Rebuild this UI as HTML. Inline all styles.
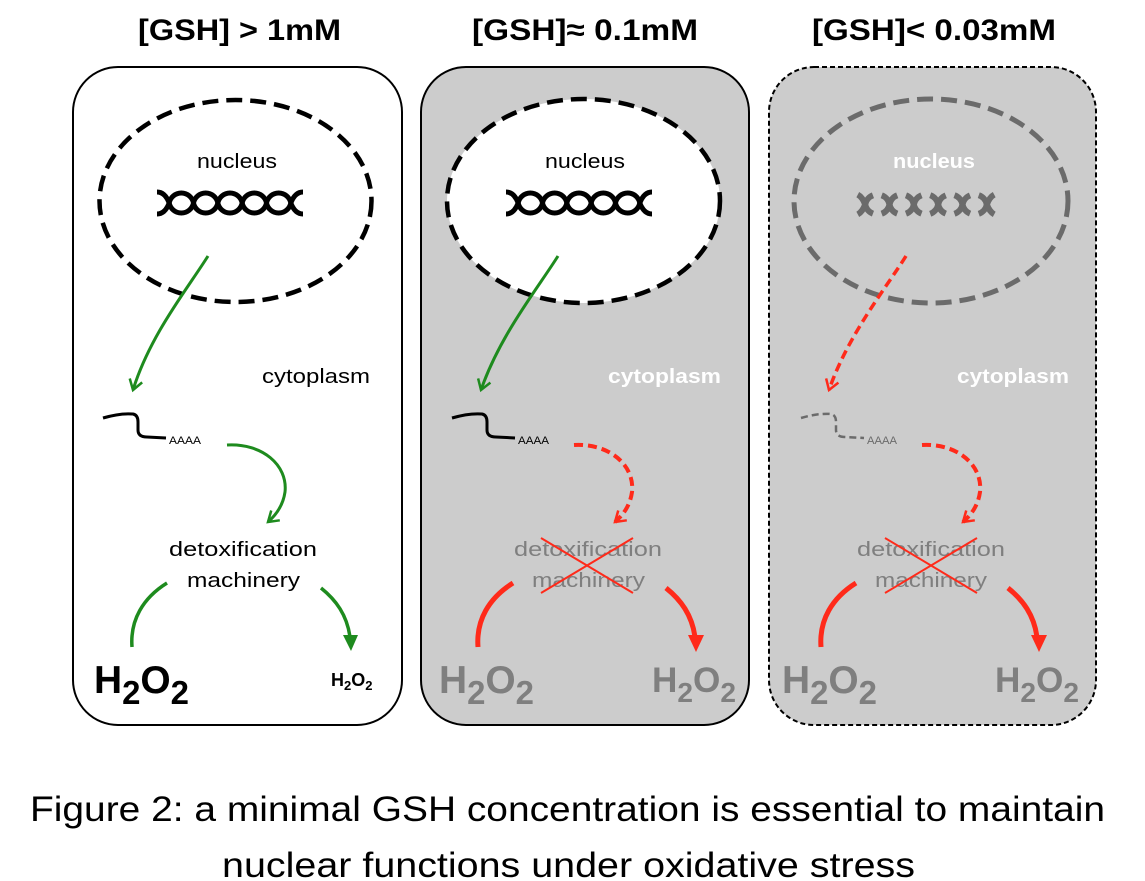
<!DOCTYPE html>
<html><head><meta charset="utf-8"><style>
html,body{margin:0;padding:0;background:#fff;overflow:hidden}
svg{display:block}
text{font-family:"Liberation Sans",sans-serif}
</style></head><body>
<svg width="1145" height="881" viewBox="0 0 1145 881" xmlns="http://www.w3.org/2000/svg">
<defs>
<marker id="vg" markerWidth="16" markerHeight="16" viewBox="-13 -8 16 16" refX="0" refY="0" orient="auto" markerUnits="userSpaceOnUse">
<path d="M-10,-6.5 L0,0 L-10,6.5" fill="none" stroke="#1e8b1e" stroke-width="2.5"/></marker>
<marker id="vr" markerWidth="16" markerHeight="16" viewBox="-13 -8 16 16" refX="0" refY="0" orient="auto" markerUnits="userSpaceOnUse">
<path d="M-10,-6.5 L0,0 L-10,6.5" fill="none" stroke="#ff2a1a" stroke-width="2.5"/></marker>
</defs>
<rect width="1145" height="881" fill="#fff"/>

<!-- Titles -->
<text x="138" y="40" font-size="30" font-weight="bold" textLength="203" lengthAdjust="spacingAndGlyphs">[GSH] &gt; 1mM</text>
<text x="472" y="40" font-size="30" font-weight="bold" textLength="226" lengthAdjust="spacingAndGlyphs">[GSH]≈ 0.1mM</text>
<text x="812" y="40" font-size="30" font-weight="bold" textLength="244" lengthAdjust="spacingAndGlyphs">[GSH]&lt; 0.03mM</text>

<!-- Panels -->
<rect x="73" y="67" width="329" height="658" rx="45" ry="45" fill="#fff" stroke="#000" stroke-width="2"/>
<rect x="421" y="67" width="328" height="658" rx="45" ry="45" fill="#cccccc" stroke="#000" stroke-width="2"/>
<rect x="769" y="67" width="327" height="658" rx="45" ry="45" fill="#cccccc" stroke="#000" stroke-width="2" stroke-dasharray="5,3"/>

<!-- Nuclei -->
<ellipse cx="235.5" cy="201" rx="136" ry="101" fill="none" stroke="#000" stroke-width="4.5" stroke-dasharray="16,8"/>
<ellipse cx="583.5" cy="201" rx="136.5" ry="102" fill="#fff" stroke="#000" stroke-width="4.5" stroke-dasharray="16,8"/>
<ellipse cx="931" cy="201" rx="137" ry="102" fill="none" stroke="#6b6b6b" stroke-width="5" stroke-dasharray="16,8"/>

<text x="197" y="168" font-size="20" textLength="80" lengthAdjust="spacingAndGlyphs">nucleus</text>
<text x="545" y="168" font-size="20" textLength="80" lengthAdjust="spacingAndGlyphs">nucleus</text>
<text x="893" y="168" font-size="20" font-weight="bold" fill="#fff" textLength="82" lengthAdjust="spacingAndGlyphs">nucleus</text>

<!-- Helix panel 1 -->
<g fill="none" stroke="#000" stroke-width="5">
<path d="M157,192 Q165,192 169.17,203 A12.4,12.4 0 0 0 193.5,203 A12.4,12.4 0 0 1 217.83,203 A12.4,12.4 0 0 0 242.17,203 A12.4,12.4 0 0 1 266.5,203 A12.4,12.4 0 0 0 290.83,203 Q295,192 303,192"/>
<path d="M157,214 Q165,214 169.17,203 A12.4,12.4 0 0 1 193.5,203 A12.4,12.4 0 0 0 217.83,203 A12.4,12.4 0 0 1 242.17,203 A12.4,12.4 0 0 0 266.5,203 A12.4,12.4 0 0 1 290.83,203 Q295,214 303,214"/>
</g>
<!-- Helix panel 2 -->
<g fill="none" stroke="#000" stroke-width="5" transform="translate(349,0)">
<path d="M157,192 Q165,192 169.17,203 A12.4,12.4 0 0 0 193.5,203 A12.4,12.4 0 0 1 217.83,203 A12.4,12.4 0 0 0 242.17,203 A12.4,12.4 0 0 1 266.5,203 A12.4,12.4 0 0 0 290.83,203 Q295,192 303,192"/>
<path d="M157,214 Q165,214 169.17,203 A12.4,12.4 0 0 1 193.5,203 A12.4,12.4 0 0 0 217.83,203 A12.4,12.4 0 0 1 242.17,203 A12.4,12.4 0 0 0 266.5,203 A12.4,12.4 0 0 1 290.83,203 Q295,214 303,214"/>
</g>
<!-- Broken helix panel 3 -->
<g fill="none" stroke="#6b6b6b" stroke-width="6" transform="translate(696,1.5)">
<g stroke-dasharray="25,8.9" stroke-dashoffset="12.5">
<path d="M169.17,203 A12.4,12.4 0 0 0 193.5,203 A12.4,12.4 0 0 1 217.83,203 A12.4,12.4 0 0 0 242.17,203 A12.4,12.4 0 0 1 266.5,203 A12.4,12.4 0 0 0 290.83,203"/>
<path d="M169.17,203 A12.4,12.4 0 0 1 193.5,203 A12.4,12.4 0 0 0 217.83,203 A12.4,12.4 0 0 1 242.17,203 A12.4,12.4 0 0 0 266.5,203 A12.4,12.4 0 0 1 290.83,203"/>
</g>
<g stroke-dasharray="12.5,100">
<path d="M169.17,203 Q165,192 157,192"/>
<path d="M169.17,203 Q165,214 157,214"/>
<path d="M290.83,203 Q295,192 303,192"/>
<path d="M290.83,203 Q295,214 303,214"/>
</g>
</g>

<!-- nucleus -> mRNA arrows -->
<path d="M208,256 C188,288 150,335 133,390" fill="none" stroke="#1e8b1e" stroke-width="3" marker-end="url(#vg)"/>
<path d="M558,256 C538,288 500,335 481,390" fill="none" stroke="#1e8b1e" stroke-width="3" marker-end="url(#vg)"/>
<path d="M906,256 C886,288 848,335 829,390" fill="none" stroke="#ff2a1a" stroke-width="3.5" stroke-dasharray="9,5" marker-end="url(#vr)"/>

<!-- cytoplasm -->
<text x="262" y="383" font-size="20" textLength="108" lengthAdjust="spacingAndGlyphs">cytoplasm</text>
<text x="608" y="383" font-size="20" font-weight="bold" fill="#fff" textLength="113" lengthAdjust="spacingAndGlyphs">cytoplasm</text>
<text x="957" y="383" font-size="20" font-weight="bold" fill="#fff" textLength="112" lengthAdjust="spacingAndGlyphs">cytoplasm</text>

<!-- mRNA -->
<path d="M103,418 Q120,413 133,414 Q138,415 138,422 L138,430 Q138,437 147,437 L166,438" fill="none" stroke="#000" stroke-width="3"/>
<path transform="translate(349,0)" d="M103,418 Q120,413 133,414 Q138,415 138,422 L138,430 Q138,437 147,437 L166,438" fill="none" stroke="#000" stroke-width="3"/>
<path transform="translate(698,0)" d="M103,418 Q120,413 133,414 Q138,415 138,422 L138,430 Q138,437 147,437 L166,438" fill="none" stroke="#6b6b6b" stroke-width="2.5" stroke-dasharray="7,4"/>
<text x="169" y="444" font-size="11" textLength="32" lengthAdjust="spacingAndGlyphs">AAAA</text>
<text x="518" y="444" font-size="11" textLength="31" lengthAdjust="spacingAndGlyphs">AAAA</text>
<text x="867" y="444" font-size="11" fill="#6b6b6b" textLength="30" lengthAdjust="spacingAndGlyphs">AAAA</text>

<!-- mRNA -> machinery arrows -->
<path d="M227,445 C262,443 288,465 285,492 C283,506 276,515 268,522" fill="none" stroke="#1e8b1e" stroke-width="3" marker-end="url(#vg)"/>
<path d="M574,445 C609,443 635,465 632,492 C630,506 623,515 615,522" fill="none" stroke="#ff2a1a" stroke-width="4" stroke-dasharray="9,5" marker-end="url(#vr)"/>
<path d="M922,445 C957,443 983,465 980,492 C978,506 971,515 963,522" fill="none" stroke="#ff2a1a" stroke-width="4" stroke-dasharray="9,5" marker-end="url(#vr)"/>

<!-- detox text -->
<text x="169" y="556" font-size="20" textLength="148" lengthAdjust="spacingAndGlyphs">detoxification</text>
<text x="187" y="587" font-size="20" textLength="113" lengthAdjust="spacingAndGlyphs">machinery</text>
<text x="514" y="556" font-size="20" fill="#7f7f7f" textLength="148" lengthAdjust="spacingAndGlyphs">detoxification</text>
<text x="532" y="587" font-size="20" fill="#7f7f7f" textLength="113" lengthAdjust="spacingAndGlyphs">machinery</text>
<text x="857" y="556" font-size="20" fill="#7f7f7f" textLength="148" lengthAdjust="spacingAndGlyphs">detoxification</text>
<text x="875" y="587" font-size="20" fill="#7f7f7f" textLength="112" lengthAdjust="spacingAndGlyphs">machinery</text>

<!-- red crosses -->
<g stroke="#ff2a1a" stroke-width="2">
<line x1="541" y1="538" x2="633" y2="593"/><line x1="541" y1="593" x2="633" y2="538"/>
<line x1="885" y1="538" x2="977" y2="593"/><line x1="885" y1="593" x2="977" y2="538"/>
</g>

<!-- bottom arcs -->
<path d="M132,647 C130,620 143,598 167,583" fill="none" stroke="#1e8b1e" stroke-width="3.5"/>
<path d="M321,588 C336,600 347,615 350,637" fill="none" stroke="#1e8b1e" stroke-width="3.5"/>
<polygon points="343,635 358,635 351,651" fill="#1e8b1e"/>

<path d="M478,647 C476,620 489,598 513,583" fill="none" stroke="#ff2a1a" stroke-width="5"/>
<path d="M666,588 C681,600 692,615 695,637" fill="none" stroke="#ff2a1a" stroke-width="5"/>
<polygon points="688,635 704,635 696,652" fill="#ff2a1a"/>

<path d="M821,647 C819,620 832,598 856,583" fill="none" stroke="#ff2a1a" stroke-width="5"/>
<path d="M1008,588 C1023,600 1034,615 1037,637" fill="none" stroke="#ff2a1a" stroke-width="5"/>
<polygon points="1031,635 1047,635 1039,652" fill="#ff2a1a"/>

<!-- H2O2 -->
<text x="94" y="693" font-size="39" font-weight="bold" fill="#000" textLength="95" lengthAdjust="spacingAndGlyphs">H<tspan font-size="33" dy="11">2</tspan><tspan font-size="39" dy="-11">O</tspan><tspan font-size="33" dy="11">2</tspan></text>
<text x="331" y="686" font-size="18" font-weight="bold" fill="#000">H<tspan font-size="13" dy="4">2</tspan><tspan font-size="18" dy="-4">O</tspan><tspan font-size="13" dy="4">2</tspan></text>

<text x="439" y="693" font-size="39" font-weight="bold" fill="#7f7f7f" textLength="95" lengthAdjust="spacingAndGlyphs">H<tspan font-size="33" dy="11">2</tspan><tspan font-size="39" dy="-11">O</tspan><tspan font-size="33" dy="11">2</tspan></text>
<text x="652" y="692" font-size="35" font-weight="bold" fill="#7f7f7f" textLength="84" lengthAdjust="spacingAndGlyphs">H<tspan font-size="28" dy="10">2</tspan><tspan font-size="35" dy="-10">O</tspan><tspan font-size="28" dy="10">2</tspan></text>

<text x="782" y="693" font-size="39" font-weight="bold" fill="#7f7f7f" textLength="95" lengthAdjust="spacingAndGlyphs">H<tspan font-size="33" dy="11">2</tspan><tspan font-size="39" dy="-11">O</tspan><tspan font-size="33" dy="11">2</tspan></text>
<text x="995" y="692" font-size="35" font-weight="bold" fill="#7f7f7f" textLength="84" lengthAdjust="spacingAndGlyphs">H<tspan font-size="28" dy="10">2</tspan><tspan font-size="35" dy="-10">O</tspan><tspan font-size="28" dy="10">2</tspan></text>

<!-- Caption -->
<text x="30" y="821" font-size="35" textLength="1075" lengthAdjust="spacingAndGlyphs">Figure 2: a minimal GSH concentration is essential to maintain</text>
<text x="222" y="877" font-size="35" textLength="693" lengthAdjust="spacingAndGlyphs">nuclear functions under oxidative stress</text>
</svg>
</body></html>
